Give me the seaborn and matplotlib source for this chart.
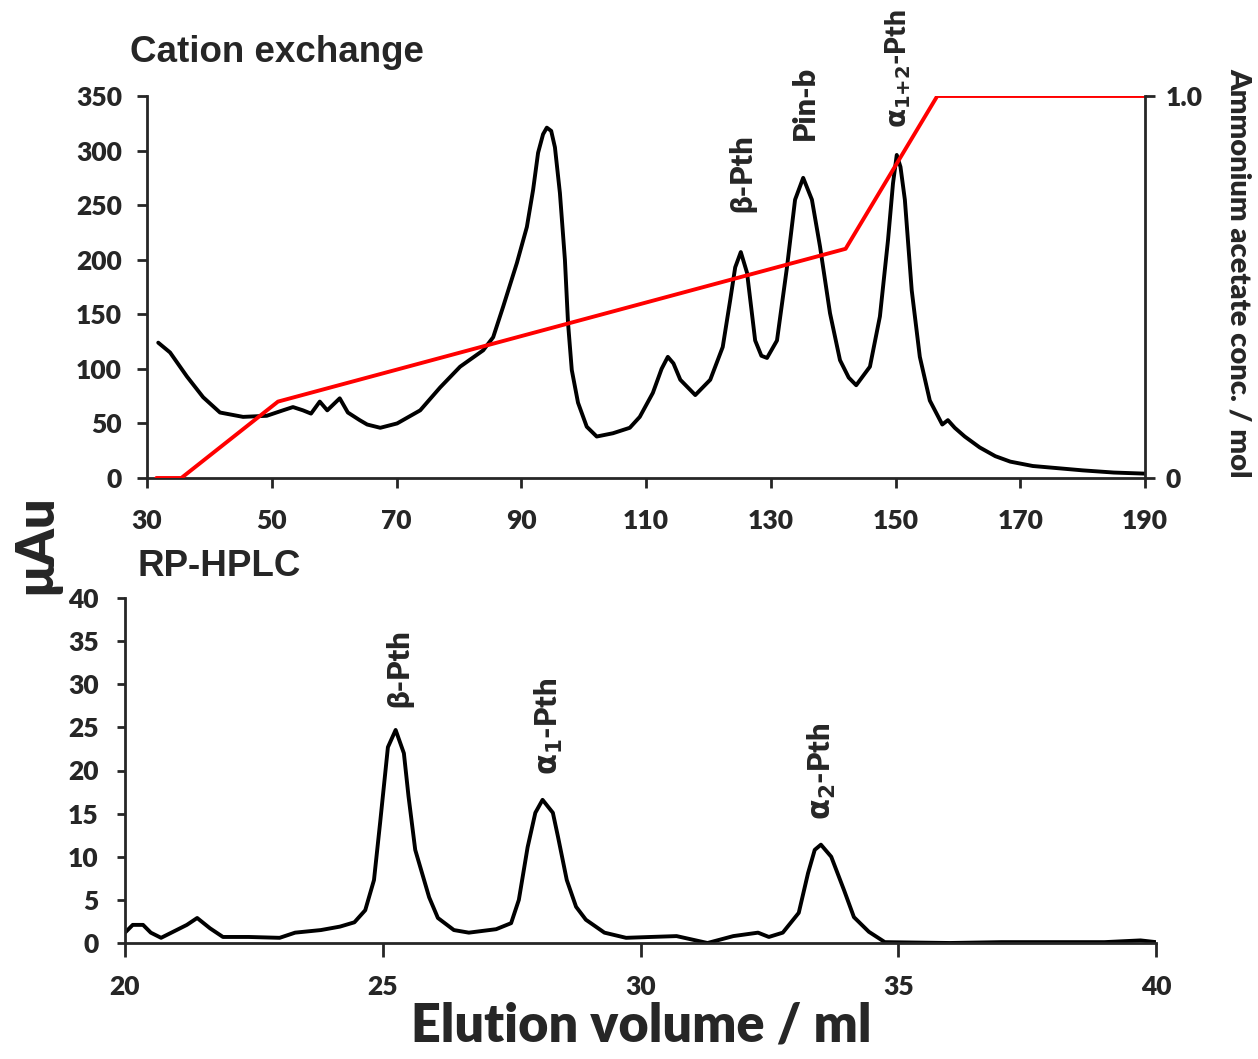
import matplotlib
matplotlib.use("Agg")
import numpy as np
import pandas as pd
import matplotlib.pyplot as plt
import seaborn as sns

# cation exchange trace (ml, uAu)
cex_volume = [31.8, 33.7, 36.4, 39.0, 41.7, 45.4, 49.2, 51.8, 53.4, 55.0, 56.3, 57.7, 58.9,
              60.9, 62.2, 64.1, 65.3, 67.4, 70.1, 73.8, 77.0, 80.2, 83.9, 85.5, 87.1,
              89.3, 90.9, 91.9, 92.7, 93.5, 94.1, 94.8, 95.4, 96.2, 97.0, 97.5, 98.1,
              99.1, 100.5, 102.1, 104.7, 107.4, 109.0, 111.1, 112.5, 113.5, 114.4,
              115.5, 117.9, 120.3, 122.3, 123.5, 124.3, 125.2, 126.2, 127.5, 128.5,
              129.4, 131.0, 132.6, 133.9, 135.2, 136.6, 137.9, 139.5, 141.1, 142.5,
              143.7, 145.9, 147.5, 148.8, 149.6, 150.2, 150.8, 151.5, 152.6, 153.9,
              155.5, 157.5, 158.4, 159.5, 161.1, 163.5, 166, 168.4, 172, 176, 180,
              185, 190]
cex_signal = [124, 115, 93, 74, 60, 56, 57, 62, 65, 62, 59, 70, 62,
              73, 60, 53, 49, 46, 50, 62, 83, 102, 117, 129, 157,
              197, 230, 264, 298, 315, 321, 318, 303, 261, 200, 142, 99,
              69, 47, 38, 41, 46, 56, 78, 100, 111, 105,
              90, 76, 90, 120, 163, 193, 207, 188, 126, 112,
              110, 126, 193, 255, 275, 255, 212, 151, 108, 92,
              85, 102, 148, 218, 270, 296, 285, 255, 172, 111,
              71, 49, 53, 46, 38, 28, 20, 15, 11, 9, 7,
              5, 4]

# ammonium acetate gradient (ml, mol)
grad_volume = [31.5, 35.5, 51, 142, 156.7, 190]
grad_conc = [0, 0, 0.2, 0.6, 1.0, 1.0]

# RP-HPLC trace (ml, uAu)
hplc_volume = [20, 20.15, 20.35, 20.5, 20.7, 20.9, 21.2, 21.4, 21.65, 21.9, 22.4, 23.0,
               23.3, 23.8, 24.17, 24.45, 24.66, 24.83, 24.95, 25.1, 25.25, 25.41, 25.5,
               25.63, 25.9, 26.07, 26.38, 26.67, 27.2, 27.49, 27.64, 27.81, 27.96,
               28.1, 28.3, 28.4, 28.57, 28.75, 28.94, 29.3, 29.72, 30.2, 30.7, 31.0,
               31.3, 31.8, 32.28, 32.49, 32.76, 33.07, 33.25, 33.38, 33.5, 33.7,
               33.95, 34.14, 34.43, 34.74, 36, 37, 38, 39, 39.7, 40]
hplc_signal = [1.2, 2.1, 2.1, 1.2, 0.6, 1.2, 2.1, 2.9, 1.7, 0.7, 0.7, 0.6,
               1.2, 1.5, 1.9, 2.4, 3.8, 7.3, 14, 22.7, 24.7, 22, 17,
               10.8, 5.3, 2.9, 1.5, 1.2, 1.6, 2.3, 5, 11.1, 15.1,
               16.6, 15.1, 12.3, 7.3, 4.2, 2.7, 1.2, 0.6, 0.7, 0.8, 0.4,
               0, 0.8, 1.2, 0.7, 1.2, 3.5, 8.1, 10.8, 11.4, 10,
               6.1, 3, 1.3, 0.1, 0, 0.1, 0.1, 0.1, 0.3, 0.1]

cex_peaks = ["β-Pth", "Pin-b", r"$\alpha_{1{+}2}$-Pth"]
cex_peak_x = [125.4, 135.5, 150.4]
cex_peak_y = [244, 310, 321]
hplc_peaks = ["β-Pth", r"$\alpha_{1}$-Pth", r"$\alpha_{2}$-Pth"]
hplc_peak_x = [25.33, 28.22, 33.52]
hplc_peak_y = [27.4, 19.5, 14.3]

sns.set_style("ticks")
plt.rcParams['font.family'] = ['Lato', 'Noto Sans', 'DejaVu Sans']
plt.rcParams['font.weight'] = 'heavy'
plt.rcParams['mathtext.fontset'] = 'custom'
plt.rcParams['mathtext.bf'] = 'DejaVu Sans:bold'
plt.rcParams['mathtext.rm'] = 'DejaVu Sans:bold'
plt.rcParams['mathtext.default'] = 'bf'

W, H = 1258, 1059
fig = plt.figure(figsize=(W / 100, H / 100), dpi=100)

def fx(px):
    return px / W

def fy(py):
    return 1 - py / H

LW = 2.8
TICKFS = 19

# ---- top panel: cation exchange
ax1 = fig.add_axes([fx(147), fy(478), fx(1145) - fx(147), fy(96) - fy(478)])
cex = pd.DataFrame({'vol': cex_volume, 'sig': cex_signal})
sns.lineplot(data=cex, x='vol', y='sig', ax=ax1, color='black', lw=LW, estimator=None)
ax1.set_xlim(30, 190)
ax1.set_ylim(0, 350)
ax1.set_xticks(range(30, 191, 20))
ax1.set_yticks(range(0, 351, 50))
ax1.set_xlabel('')
ax1.set_ylabel('')
ax1.tick_params(axis='x', direction='out', length=7, width=2, labelsize=TICKFS, pad=15)
ax1.tick_params(axis='y', direction='out', length=7, width=2, labelsize=TICKFS, pad=11)
for s in ['left', 'bottom']:
    ax1.spines[s].set_linewidth(2)
ax1.spines['top'].set_visible(False)
ax1.spines['right'].set_visible(False)

ax1r = ax1.twinx()
grad = pd.DataFrame({'vol': grad_volume, 'conc': grad_conc})
sns.lineplot(data=grad, x='vol', y='conc', ax=ax1r, color='#ff0000', lw=LW, estimator=None)
ax1r.set_ylim(0, 1.0)
ax1r.set_yticks([0, 1.0])
ax1r.set_yticklabels(['0', '1.0'])
ax1r.set_ylabel('')
ax1r.tick_params(axis='y', direction='out', length=7, width=2, labelsize=TICKFS, pad=8)
ax1r.spines['right'].set_linewidth(2)
for s in ['top', 'left', 'bottom']:
    ax1r.spines[s].set_visible(False)

for lab, x, y in zip(cex_peaks, cex_peak_x, cex_peak_y):
    fs = 20 if '+' in lab else 22
    ax1.text(x, y, lab, rotation=90, ha='center', va='bottom', fontsize=fs,
             clip_on=False)

# ---- bottom panel: RP-HPLC
ax2 = fig.add_axes([fx(125), fy(943), fx(1156) - fx(125), fy(598) - fy(943)])
hplc = pd.DataFrame({'vol': hplc_volume, 'sig': hplc_signal})
sns.lineplot(data=hplc, x='vol', y='sig', ax=ax2, color='black', lw=LW, estimator=None)
ax2.set_xlim(20, 40)
ax2.set_ylim(0, 40)
ax2.set_xticks(range(20, 41, 5))
ax2.set_yticks(range(0, 41, 5))
ax2.set_xlabel('')
ax2.set_ylabel('')
ax2.tick_params(axis='x', direction='out', length=10, width=2, labelsize=TICKFS, pad=13)
ax2.tick_params(axis='y', direction='out', length=6, width=2, labelsize=TICKFS, pad=13)
for s in ['left', 'bottom']:
    ax2.spines[s].set_linewidth(2)
ax2.spines['top'].set_visible(False)
ax2.spines['right'].set_visible(False)

for lab, x, y in zip(hplc_peaks, hplc_peak_x, hplc_peak_y):
    ax2.text(x, y, lab, rotation=90, ha='center', va='bottom', fontsize=22,
             clip_on=False)

# ---- titles and axis labels
fig.text(fx(130), fy(52), 'Cation exchange', ha='left', va='center', fontsize=26.5,
         fontweight='bold', family='Liberation Sans')
fig.text(fx(137), fy(566), 'RP-HPLC', ha='left', va='center', fontsize=26.5,
         fontweight='bold', family='Liberation Sans')
fig.text(fx(37), fy(545), 'μAu', rotation=90, ha='center', va='center', fontsize=37.5)
fig.text(fx(641), fy(1026), 'Elution volume / ml', ha='center', va='center', fontsize=37.5)
fig.text(fx(1239), fy(273), 'Ammonium acetate conc. / mol', rotation=-90, ha='center',
         va='center', fontsize=21)

fig.savefig('out.png', dpi=100)
